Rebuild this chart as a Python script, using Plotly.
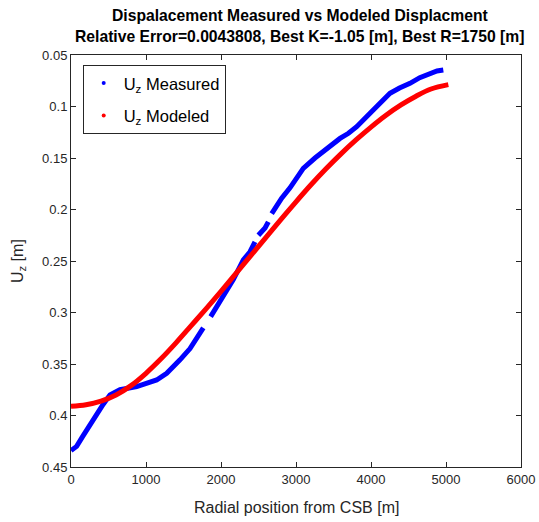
import plotly.graph_objects as go

# Measured vertical displacement (None marks gaps in the survey)
measured_r = [0, 75, 150, 253, 342, 430, 520, 653, 876, 1142, 1276, 1360, 1453, 1587,
              1676, 1764, None, 1862, 1950, 2031, 2164, 2298, 2387, 2453, None, 2498,
              2587, 2631, None, 2676, 2809, 2920, 3097, 3253, 3409, 3587, 3700, 3809,
              3987, 4080, 4164, 4253, 4380, 4520, 4650, 4787, 4880, 4964]
measured_uz = [0.434, 0.430, 0.421, 0.409, 0.398, 0.389, 0.380, 0.375, 0.372, 0.3655,
               0.359, 0.353, 0.346, 0.335, 0.324, 0.315, None, 0.304, 0.294, 0.2846,
               0.268, 0.249, 0.241, 0.2315, None, 0.225, 0.218, 0.212, None, 0.204,
               0.189, 0.179, 0.160, 0.150, 0.1406, 0.131, 0.126, 0.1196, 0.1066, 0.100,
               0.0937, 0.0872, 0.082, 0.0775, 0.072, 0.0678, 0.0655, 0.0646]

# Modeled vertical displacement
modeled_r = [0, 200, 400, 600, 800, 1000, 1200, 1400, 1600, 1800, 2000, 2200, 2400,
             2600, 2800, 3000, 3200, 3400, 3600, 3800, 4000, 4200, 4400, 4600, 4800, 5031]
modeled_uz = [0.391, 0.3895, 0.386, 0.380, 0.371, 0.359, 0.345, 0.3295, 0.313, 0.2965,
              0.2795, 0.262, 0.2445, 0.227, 0.2095, 0.1925, 0.176, 0.1605, 0.146, 0.1325,
              0.120, 0.1085, 0.0985, 0.090, 0.083, 0.0788]

x_ticks = [0, 1000, 2000, 3000, 4000, 5000, 6000]
y_ticks = [0.05, 0.1, 0.15, 0.2, 0.25, 0.3, 0.35, 0.4, 0.45]
y_labels = ["0.05", "0.1", "0.15", "0.2", "0.25", "0.3", "0.35", "0.4", "0.45"]

BLUE = "#0000ff"
RED = "#ff0000"
FONT = "Liberation Sans, Arial"
INK = "#262626"

fig = go.Figure()
fig.add_trace(go.Scatter(x=measured_r, y=measured_uz, mode="lines",
                         line=dict(color=BLUE, width=5), connectgaps=False,
                         showlegend=False, hoverinfo="skip"))
fig.add_trace(go.Scatter(x=modeled_r, y=modeled_uz, mode="lines",
                         line=dict(color=RED, width=5, shape="spline", smoothing=1),
                         showlegend=False, hoverinfo="skip"))
# legend entries drawn as dot markers
fig.add_trace(go.Scatter(x=[None], y=[None], mode="markers", legendgroup="m",
                         marker=dict(color=BLUE, size=4), name="U<sub>z</sub> Measured"))
fig.add_trace(go.Scatter(x=[None], y=[None], mode="markers", legendgroup="p",
                         marker=dict(color=RED, size=4), name="U<sub>z</sub> Modeled"))

axis_common = dict(
    showgrid=False, zeroline=False, showline=True, linecolor=INK, linewidth=1,
    mirror="ticks", ticks="inside", ticklen=5, tickcolor=INK, automargin=False,
    tickfont=dict(family=FONT, size=13, color=INK),
)

fig.update_layout(
    width=539, height=522,
    margin=dict(l=71, r=18, t=55, b=55),
    paper_bgcolor="white", plot_bgcolor="white",
    font=dict(family=FONT, color=INK),
    xaxis=dict(range=[0, 6000], tickvals=x_ticks, **axis_common),
    yaxis=dict(range=[0.45, 0.05], tickvals=y_ticks, ticktext=y_labels, **axis_common),
    legend=dict(x=0.026, y=0.976, xanchor="left", yanchor="top",
                bgcolor="white", bordercolor=INK, borderwidth=1,
                font=dict(family=FONT, size=16.5, color="black"),
                tracegroupgap=8, traceorder="grouped", itemwidth=30),
)

# titles
title_lines = ["Dispalacement Measured vs Modeled Displacment",
               "Relative Error=0.0043808, Best K=-1.05 [m], Best R=1750 [m]"]
for text, ypos in zip(title_lines, [1.0947, 1.0437]):
    fig.add_annotation(text=f"<b>{text}</b>", xref="paper", yref="paper",
                       x=0.5089, y=ypos, xanchor="center", yanchor="middle",
                       showarrow=False, font=dict(family=FONT, size=15.7, color="black"))
fig.add_annotation(text="Radial position from CSB [m]", xref="paper", yref="paper",
                   x=0.5, y=-0.0995, xanchor="center", yanchor="middle",
                   showarrow=False, font=dict(family=FONT, size=16, color=INK))
fig.add_annotation(text="U<sub>z</sub> [m]", xref="paper", yref="paper",
                   x=-0.1178, y=0.5, xanchor="center", yanchor="middle", textangle=-90,
                   showarrow=False, font=dict(family=FONT, size=16, color=INK))

fig.write_html("out.html")
